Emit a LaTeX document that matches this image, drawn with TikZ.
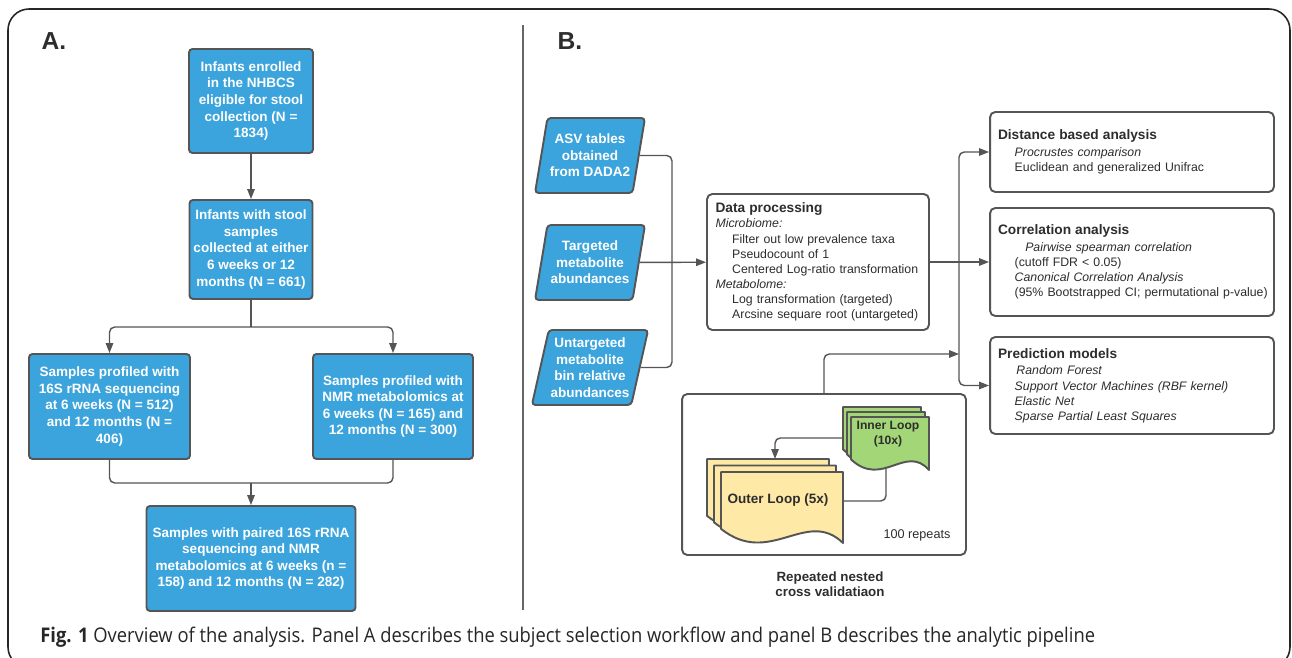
\documentclass[tikz,border=0pt]{standalone}
\usepackage{fontspec}
\setmainfont{Liberation Sans}
\newfontfamily\capfont{Open Sans}
\usetikzlibrary{arrows.meta,positioning,shapes.geometric,calc}
\definecolor{lBlue}{RGB}{59,164,220}
\definecolor{dGray}{RGB}{85,85,85}
\definecolor{tGray}{RGB}{45,45,45}
\definecolor{fGreen}{RGB}{162,214,118}
\definecolor{fYellow}{RGB}{254,234,166}
\newcommand{\itemgap}{\hspace*{9.5pt}}
\newcommand{\hdfont}{\bfseries\fontsize{7.8}{9.4}\selectfont}
% document sheet with a wavy bottom: x, y, width, height, fill
\newcommand{\docsheet}[5]{%
  \filldraw[fill=#5,draw=dGray,line width=1.1pt,line join=round]
    (#1,#2) -- ({#1+#3},#2) -- ({#1+#3},{#2+#4})
    .. controls ({#1+0.7*#3},{#2+0.5*#4}) and ({#1+0.4*#3},{#2+1.35*#4}) .. (#1,{#2+0.8*#4}) -- cycle;}

\begin{document}
\begin{tikzpicture}[x=0.02cm,y=-0.02cm,
  ab/.style={draw=dGray,fill=lBlue,line width=1.1pt,rounded corners=2pt,align=center,text=white,font=\bfseries\fontsize{7.7}{9.4}\selectfont,inner sep=2pt},
  pb/.style={trapezium,trapezium left angle=75,trapezium right angle=105,trapezium stretches body,draw=dGray,fill=lBlue,line width=1.1pt,rounded corners=2pt,align=center,text=white,font=\bfseries\fontsize{7.7}{9.4}\selectfont,inner sep=1pt,minimum width=2.2cm,minimum height=1.5cm},
  wb/.style={draw=dGray,fill=white,line width=1.1pt,rounded corners=3pt,align=left,text=tGray,font=\fontsize{7}{8.6}\selectfont,inner sep=4pt},
  ln/.style={dGray,line width=0.8pt,rounded corners=3pt},
  a/.style={ln,-{Triangle[length=2mm,width=1.5mm]}}]
  \useasboundingbox (0,0) rectangle (1292,658);
  \draw[black!85,line width=0.9pt,rounded corners=12pt] (8,9) rectangle (1290,668);
  \draw[dGray!90,line width=1.3pt] (523,25) -- (523,610);
  \node[font=\bfseries\fontsize{14}{16}\selectfont,text=tGray] (labA) at (54,41) {A.};
  \node[font=\bfseries\fontsize{14}{16}\selectfont,text=tGray] (labB) at (570,41) {B.};

  % panel A: subject selection
  \node[ab,minimum width=2.48cm,minimum height=2.08cm] (enrol) at (251,101) {Infants enrolled\\in the NHBCS\\eligible for stool\\collection (N =\\1834)};
  \node[ab,minimum width=2.46cm,minimum height=1.98cm] (stool) at (251,249.5) {Infants with stool\\samples\\collected at either\\6 weeks or 12\\months (N = 661)};
  \node[ab,minimum width=3.22cm,minimum height=2.1cm] (rrna) at (109.5,406.5) {Samples profiled with\\16S rRNA sequencing\\at 6 weeks (N = 512)\\and 12 months (N =\\406)};
  \node[ab,minimum width=3.2cm,minimum height=2.1cm] (nmr) at (393,406.5) {Samples profiled with\\NMR metabolomics at\\6 weeks (N = 165) and\\12 months (N = 300)};
  \node[ab,minimum width=4.18cm,minimum height=2.1cm] (paired) at (251,558.5) {Samples with paired 16S rRNA\\sequencing and NMR\\metabolomics at 6 weeks (n =\\158) and 12 months (N = 282)};
  \coordinate (split) at (251,327);
  \coordinate (merge) at (251,483);
  \draw[a] (enrol) -- (stool);
  \draw[ln] (stool) -- (split);
  \draw[a] (split) -| (rrna);
  \draw[a] (split) -| (nmr);
  \draw[ln] (rrna) |- (merge);
  \draw[ln] (nmr) |- (merge);
  \draw[a] (merge) -- (paired);

  % panel B: analytic pipeline
  \node[pb] (asv) at (590,155.5) {ASV tables\\obtained\\from DADA2};
  \node[pb] (targ) at (590,262.5) {Targeted\\metabolite\\abundances};
  \node[pb] (untarg) at (590,367.5) {Untargeted\\metabolite\\bin relative\\abundances};
  \node[wb,minimum width=4.44cm,minimum height=2.72cm,text width=4.1cm] (proc) at (818,262) {{\hdfont Data processing}\\\textit{Microbiome:}\\\itemgap Filter out low prevalence taxa\\\itemgap Pseudocount of 1\\\itemgap Centered Log-ratio transformation\\\textit{Metabolome:}\\\itemgap Log transformation (targeted)\\\itemgap Arcsine sequare root (untargeted)};
  \node[wb,minimum width=5.68cm,minimum height=1.6cm,text width=5.36cm] (dist) at (1132,152) {{\hdfont Distance based analysis}\\[1pt]\itemgap\textit{Procrustes comparison}\\\itemgap Euclidean and generalized Unifrac};
  \node[wb,minimum width=5.68cm,minimum height=2.16cm,text width=5.36cm] (corr) at (1132,262) {{\hdfont Correlation analysis}\\[1pt]\itemgap\hspace*{6pt}\textit{Pairwise spearman correlation}\\\itemgap(cutoff FDR < 0.05)\\\itemgap\textit{Canonical Correlation Analysis}\\\itemgap\mbox{(95\% Bootstrapped CI; permutational p-value)}};
  \node[wb,minimum width=5.68cm,minimum height=1.94cm,text width=5.36cm] (pred) at (1132,385.5) {{\hdfont Prediction models}\\[1pt]\itemgap\hspace*{1pt}\textit{Random Forest}\\\itemgap\textit{Support Vector Machines (RBF kernel)}\\\itemgap\textit{Elastic Net}\\\itemgap\textit{Sparse Partial Least Squares}};
  \coordinate (mrg) at (672,262);
  \coordinate (fan) at (959,262);
  \coordinate (cvin) at (959,354);
  \draw[ln] (asv) -| (mrg);
  \draw[ln] (untarg) -| (mrg);
  \draw[a] (targ) -- (proc);
  \draw[ln] (proc) -- (fan);
  \draw[a] (fan) |- (dist);
  \draw[a] (fan) -- (corr);
  \draw[a] (fan) |- (pred);

  % nested cross validation
  \node[draw=dGray,fill=white,line width=1.1pt,rounded corners=3pt,minimum width=5.68cm,minimum height=3.22cm] (cv) at (824,474.5) {};
  \draw[a] (cv.north) |- (cvin);
  \foreach \d in {0,1,2} \docsheet{843+4*\d}{407+5*\d}{78}{53}{fGreen};
  \foreach \d in {0,1,2} \docsheet{707+7*\d}{459+6.5*\d}{122}{71}{fYellow};
  \node[font=\bfseries\fontsize{6.9}{8.6}\selectfont,text=tGray,align=center] (inner) at (888,434) {Inner Loop\\(10x)};
  \node[font=\bfseries\fontsize{7.7}{9}\selectfont,text=tGray] (outer) at (778,500) {Outer Loop (5x)};
  \coordinate (inL) at (843,438);
  \coordinate (outT) at (775,459);
  \coordinate (outR) at (843,501);
  \coordinate (inB) at (886,467);
  \draw[a] (inL) -| (outT);
  \draw[ln] (outR) -| (inB);
  \node[font=\fontsize{7.2}{9}\selectfont,text=tGray] (reps) at (917,535) {100 repeats};
  \node[font=\bfseries\fontsize{7.6}{8.6}\selectfont,text=tGray,align=center] (cvcap) at (830,584.5) {Repeated nested\\cross validatiaon};

  \node[anchor=west,inner sep=0pt,text=black!85] (cap) at (40,637) {\scalebox{0.91}[1]{\capfont\fontsize{11.5}{13}\selectfont\textbf{Fig. 1} Overview of the analysis. Panel A describes the subject selection workflow and panel B describes the analytic pipeline}};
\end{tikzpicture}
\end{document}
